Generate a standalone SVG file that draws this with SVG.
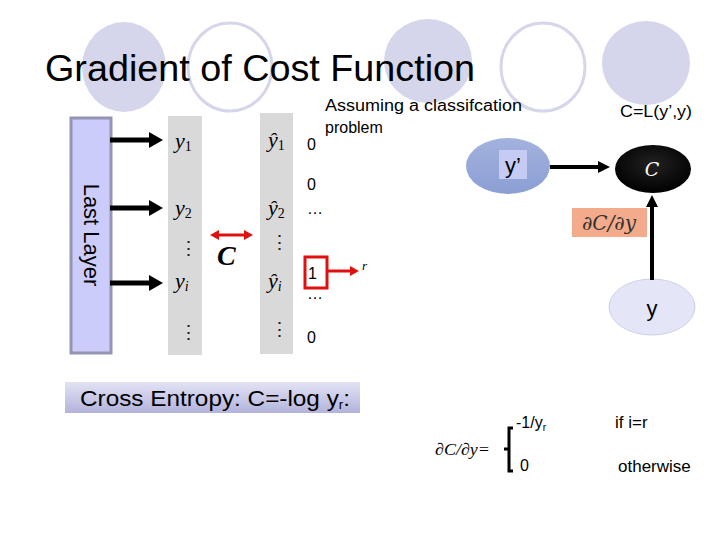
<svg xmlns="http://www.w3.org/2000/svg" width="720" height="540" viewBox="0 0 720 540">
<style>
.bgf{fill:#d5d5ec;stroke:none}
.bgo{fill:none;stroke:#d6d6ea;stroke-width:3}
.sans{font-family:"Liberation Sans",Arial,sans-serif;fill:#000}
.ser{font-family:"Liberation Serif","Times New Roman",serif;font-style:italic;fill:#000}
.up{font-family:"Liberation Serif","Times New Roman",serif;font-style:normal;fill:#000}
.vd{font-family:"DejaVu Serif",serif;font-style:normal;font-size:19px;fill:#222}
.col{fill:#d9d9d9}
.thick{stroke:#000;stroke-width:5;fill:none}
.med{stroke:#000;stroke-width:4;fill:none}
.red{stroke:#e01010;stroke-width:3;fill:none}
</style>
<defs>
<marker id="bigHead" markerUnits="userSpaceOnUse" markerWidth="14" markerHeight="16" viewBox="0 0 14 16" refX="0" refY="8" orient="auto"><path d="M0,0 L14,8 L0,16 z" fill="#000"/></marker>
<marker id="medHead" markerUnits="userSpaceOnUse" markerWidth="12" markerHeight="12" viewBox="0 0 12 12" refX="0" refY="6" orient="auto"><path d="M0,0 L12,6 L0,12 z" fill="#000"/></marker>
<marker id="redHead" markerUnits="userSpaceOnUse" markerWidth="9" markerHeight="10" viewBox="0 0 9 10" refX="0" refY="5" orient="auto-start-reverse"><path d="M0,0 L9,5 L0,10 z" fill="#e01010"/></marker>
<linearGradient id="ceGrad" x1="0" y1="0" x2="0" y2="1"><stop offset="0" stop-color="#e2e2f4"/><stop offset="1" stop-color="#b3b3dc"/></linearGradient>
<linearGradient id="ypGrad" x1="0" y1="0" x2="0" y2="1"><stop offset="0" stop-color="#a3b2de"/><stop offset="1" stop-color="#8b9fd4"/></linearGradient>
<radialGradient id="cGrad" cx="0.5" cy="0.4" r="0.6"><stop offset="0" stop-color="#222"/><stop offset="1" stop-color="#000"/></radialGradient>
</defs>

<g id="background">
<ellipse class="bgf" cx="124" cy="67" rx="42" ry="45"/>
<ellipse class="bgo" cx="230" cy="67" rx="42" ry="44"/>
<ellipse class="bgf" cx="428" cy="61" rx="44" ry="42"/>
<ellipse class="bgo" cx="543" cy="67" rx="42" ry="44"/>
<ellipse class="bgf" cx="646" cy="63" rx="44" ry="42"/>
</g>

<g id="title"><text class="sans" x="45" y="81" font-size="37" textLength="430" lengthAdjust="spacingAndGlyphs">Gradient of Cost Function</text></g>

<g id="lastLayer">
<rect x="71" y="118" width="40" height="235" fill="#ccccfa" stroke="#9494b4" stroke-width="3"/>
<text class="sans" font-size="22" transform="translate(84,235) rotate(90)" text-anchor="middle">Last Layer</text>
</g>

<g id="outputColumn">
<rect class="col" x="168" y="116" width="34" height="239"/>
<text class="ser" x="175" y="148" font-size="22">y<tspan class="up" font-size="14" dy="3">1</tspan></text>
<text class="ser" x="175" y="215" font-size="22">y<tspan class="up" font-size="14" dy="3">2</tspan></text>
<text class="vd" x="179" y="255">⋮</text>
<text class="ser" x="175" y="288" font-size="22">y<tspan font-size="14" dy="3">i</tspan></text>
<text class="vd" x="179" y="339">⋮</text>
</g>

<g id="targetColumn">
<rect class="col" x="260" y="113" width="33" height="241"/>
<text class="ser" x="268" y="147" font-size="22">ŷ<tspan class="up" font-size="14" dy="3">1</tspan></text>
<text class="ser" x="268" y="215" font-size="22">ŷ<tspan class="up" font-size="14" dy="3">2</tspan></text>
<text class="vd" x="270" y="249">⋮</text>
<text class="ser" x="268" y="288" font-size="22">ŷ<tspan font-size="14" dy="3">i</tspan></text>
<text class="vd" x="270" y="336">⋮</text>
</g>

<g id="costLabel"><text class="ser" x="217" y="265" font-size="28" font-weight="bold">C</text></g>

<g id="oneHot">
<text class="sans" x="307" y="150" font-size="16">0</text>
<text class="sans" x="307" y="190" font-size="16">0</text>
<text class="sans" x="307" y="214" font-size="16">…</text>
<rect x="305" y="257" width="22" height="31" fill="none" stroke="#e01010" stroke-width="3"/>
<text class="sans" x="308" y="279" font-size="16">1</text>
<text class="sans" x="307" y="299" font-size="16">…</text>
<text class="sans" x="307" y="343" font-size="16">0</text>
<text class="ser" x="362" y="270" font-size="13">r</text>
</g>

<g id="assume">
<text class="sans" x="325" y="111" font-size="16" textLength="197" lengthAdjust="spacingAndGlyphs">Assuming a classifcation</text>
<text class="sans" x="325" y="133" font-size="16">problem</text>
</g>

<g id="formulaLabel"><text class="sans" x="620" y="117" font-size="17" textLength="72" lengthAdjust="spacingAndGlyphs">C=L(y’,y)</text></g>

<g id="nodeYprime">
<ellipse cx="508" cy="166" rx="42" ry="28" fill="url(#ypGrad)"/>
<rect x="499" y="150" width="28" height="29" fill="#c6cbf3"/>
<text class="sans" x="513" y="173" font-size="22" text-anchor="middle">y’</text>
</g>

<g id="nodeC">
<ellipse cx="653" cy="169" rx="38" ry="24" fill="url(#cGrad)"/>
<text x="652" y="176" font-family="'DejaVu Serif','Liberation Serif',serif" font-style="italic" font-size="19" fill="#fff" text-anchor="middle">C</text>
</g>

<g id="nodeY">
<ellipse cx="652" cy="307" rx="43" ry="28" fill="#e4e6f8" stroke="#cdd0ec" stroke-width="1"/>
<text class="sans" x="652" y="316" font-size="22" text-anchor="middle">y</text>
</g>

<g id="gradLabel">
<rect x="572" y="208" width="75" height="29" fill="#f3ab8b"/>
<text x="609" y="230" font-family="'DejaVu Serif','Liberation Serif',serif" font-style="italic" font-size="20" fill="#333" text-anchor="middle">∂C/∂y</text>
</g>

<g id="connectors">
<line class="thick" x1="110" y1="140" x2="149" y2="140" marker-end="url(#bigHead)"/>
<line class="thick" x1="110" y1="208" x2="149" y2="208" marker-end="url(#bigHead)"/>
<line class="thick" x1="110" y1="283" x2="149" y2="283" marker-end="url(#bigHead)"/>
<line class="red" x1="219" y1="235" x2="244" y2="235" marker-start="url(#redHead)" marker-end="url(#redHead)"/>
<line class="red" x1="327" y1="271" x2="350" y2="271" marker-end="url(#redHead)"/>
<line class="med" x1="550" y1="167" x2="598" y2="167" marker-end="url(#medHead)"/>
<line class="med" x1="652" y1="280" x2="652" y2="207" marker-end="url(#medHead)"/>
</g>

<g id="crossEntropy">
<rect x="65" y="382" width="295" height="31" fill="url(#ceGrad)"/>
<text class="sans" x="80" y="406" font-size="22" textLength="270" lengthAdjust="spacingAndGlyphs">Cross Entropy: C=-log y<tspan font-size="12" dy="3">r</tspan><tspan dy="-3">:</tspan></text>
</g>

<g id="derivative">
<text class="ser" x="435" y="455" font-size="17" textLength="55" lengthAdjust="spacingAndGlyphs">∂C/∂y=</text>
<path d="M513,428 L509,428 L509,471 L513,471 M509,449 L504,449" fill="none" stroke="#000" stroke-width="3"/>
<text class="sans" x="516" y="428" font-size="16">-1/y<tspan font-size="10" dy="3">r</tspan></text>
<text class="sans" x="520" y="471" font-size="16">0</text>
<text class="sans" x="615" y="428" font-size="17">if i=r</text>
<text class="sans" x="618" y="472" font-size="17">otherwise</text>
</g>
</svg>
